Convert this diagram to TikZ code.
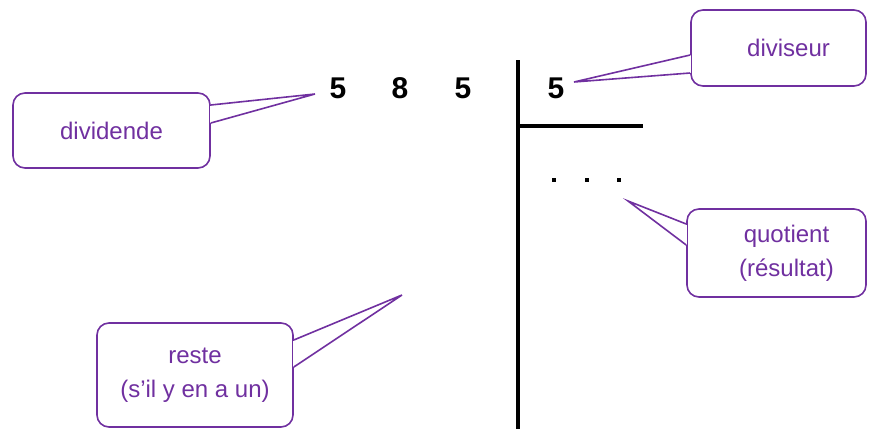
\documentclass[tikz,border=0pt]{standalone}
\usepackage{fontspec}
\setmainfont{Liberation Sans}
\usetikzlibrary{calc}
\definecolor{violetc}{HTML}{7030A0}
\tikzset{
  bubble/.style={draw=violetc, line width=1.6pt, rounded corners=12pt, fill=white,
     text=violetc, font=\fontsize{24}{34}\selectfont, align=center, inner sep=0pt},
  tail/.style={draw=violetc, line width=1.6pt, line join=miter},
  digit/.style={font=\bfseries\fontsize{30}{30}\selectfont, inner sep=0pt},
  bar/.style={line width=4pt, black}
}
\begin{document}
\begin{tikzpicture}[x=1pt,y=-1pt]
\useasboundingbox (0,0) rectangle (877,428);
% digits
\node[digit] (d1) at (338,88) {5};
\node[digit] (d2) at (400,88) {8};
\node[digit] (d3) at (463,88) {5};
\node[digit] (dv) at (556,88) {5};
% division bars
\coordinate (vtop) at (517.5,60);
\coordinate (vbot) at (517.5,430);
\coordinate (hl) at (517.5,126);
\coordinate (hr) at (643,126);
\draw[bar] (vtop) -- (vbot);
\draw[bar] (hl) -- (hr);
% quotient dots
\foreach \x in {554,587,619} \fill (\x-2,178) rectangle (\x+2,182);
% bubbles
\node[bubble, minimum width=197pt, minimum height=75pt] (bdd) at (111.5,130.5) {dividende};
\node[bubble, minimum width=175pt, minimum height=76pt] (bdv) at (778.5,48) {\hspace*{20pt}diviseur};
\node[bubble, minimum width=179pt, minimum height=88pt] (bq) at (776.5,253) {\hspace*{20pt}quotient\\\hspace*{20pt}(résultat)};
\node[bubble, minimum width=196pt, minimum height=104pt] (br) at (195,375) {reste\\(s’il y en a un)};
% tail tips
\coordinate (tdd) at (315,94);
\coordinate (tdv) at (574,82);
\coordinate (tq) at (628,201);
\coordinate (tr) at (402,295);
% dividende tail
\fill[white] ($(bdd.east)+(-1.2,-25)$) rectangle ($(bdd.east)+(1.2,-8)$);
\draw[tail] ($(bdd.east)+(0,-25.5)$) -- (tdd) -- ($(bdd.east)+(0,-7.5)$);
% diviseur tail
\fill[white] ($(bdv.west)+(-1.2,7.5)$) rectangle ($(bdv.west)+(1.2,24.5)$);
\draw[tail] ($(bdv.west)+(0,7)$) -- (tdv) -- ($(bdv.west)+(0,25)$);
% quotient tail
\fill[white] ($(bq.west)+(-1.2,-28.5)$) rectangle ($(bq.west)+(1.2,-8.5)$);
\draw[tail] ($(bq.west)+(0,-29)$) -- (tq) -- ($(bq.west)+(0,-8)$);
% reste tail
\fill[white] ($(br.east)+(-1.2,-34.5)$) rectangle ($(br.east)+(1.2,-8.5)$);
\draw[tail] ($(br.east)+(0,-35)$) -- (tr) -- ($(br.east)+(0,-8)$);
\end{tikzpicture}
\end{document}
